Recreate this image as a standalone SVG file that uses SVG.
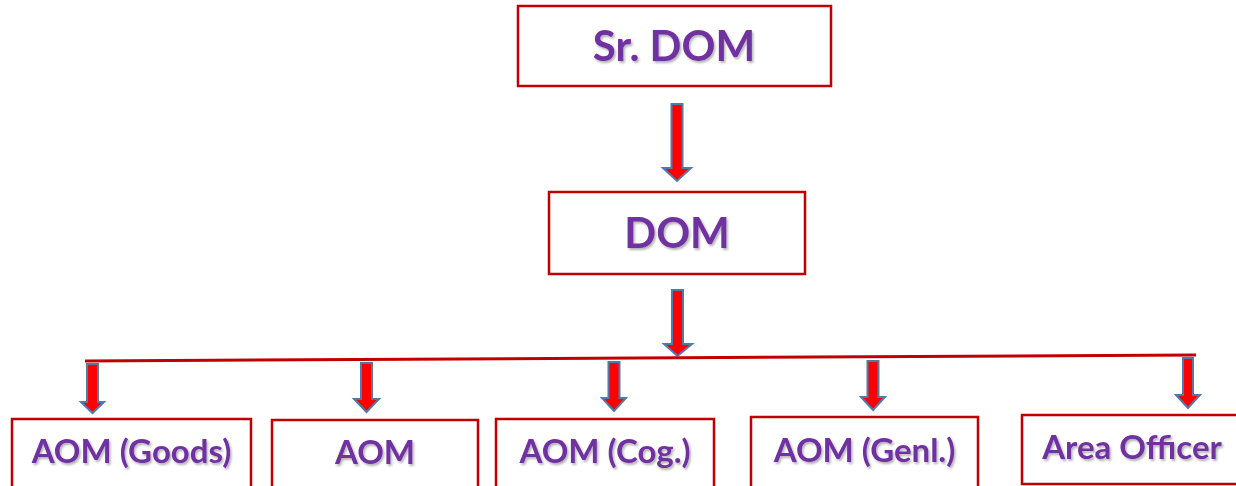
<svg xmlns="http://www.w3.org/2000/svg" width="1236" height="486" viewBox="0 0 1236 486">
<defs>
<filter id="sh" x="-10%" y="-20%" width="120%" height="150%">
<feDropShadow dx="1.5" dy="2" stdDeviation="1.2" flood-color="#000" flood-opacity="0.3"/>
</filter>
<symbol id="arrow" overflow="visible">
<path d="M-5.5,0 H5.5 V-13 H13 L0,0 L-13,-13 H-5.5 Z"/>
</symbol>
</defs>
<style>
.box{fill:#fff;stroke:#c00000;stroke-width:2.5}
.t{font-family:Lato,"Open Sans",sans-serif;font-weight:bold;fill:#7030a0;text-anchor:middle;filter:url(#sh)}
.big{font-size:42px}
.sm{font-size:33px}
.arr{fill:#ff0000;stroke:#4f7bab;stroke-width:2;stroke-linejoin:miter}
.line{stroke:#c00000;stroke-width:3;fill:none}
</style>
<rect width="1236" height="486" fill="#fff"/>
<g id="connectors">
<path class="arr" d="M671.5,104 H682.5 V168 H691 L677,181 L663,168 H671.5 Z"/>
<path class="arr" d="M672,290 H683 V344 H692 L677.5,356 L664,344 H672 Z"/>
<line class="line" x1="85" y1="361" x2="1196" y2="355"/>
<path class="arr" d="M87,364 H98 V402 H104 L92.5,413 L81,402 H87 Z"/>
<path class="arr" d="M361,363 H372 V399 H379 L366.5,412 L354,399 H361 Z"/>
<path class="arr" d="M608.5,362 H619.5 V398 H626 L614,411 L602,398 H608.5 Z"/>
<path class="arr" d="M867.5,361 H878.5 V397 H885 L873,410 L861,397 H867.5 Z"/>
<path class="arr" d="M1183,358 H1193 V395 H1200 L1188,408 L1176,395 H1183 Z"/>
</g>
<g id="n-srdom">
<rect class="box" x="518" y="6" width="313" height="80"/>
<text class="t big" x="674" y="61">Sr. DOM</text>
</g>
<g id="n-dom">
<rect class="box" x="549" y="192" width="256" height="82"/>
<text class="t big" x="677" y="248">DOM</text>
</g>
<g id="n-aom-goods">
<rect class="box" x="12" y="419" width="239" height="90"/>
<text class="t sm" x="131.5" y="463">AOM (Goods)</text>
</g>
<g id="n-aom">
<rect class="box" x="272" y="420" width="206" height="90"/>
<text class="t sm" x="375" y="464">AOM</text>
</g>
<g id="n-aom-cog">
<rect class="box" x="496" y="419" width="218" height="90"/>
<text class="t sm" x="605" y="463">AOM (Cog.)</text>
</g>
<g id="n-aom-genl">
<rect class="box" x="751" y="417" width="227" height="90"/>
<text class="t sm" x="864.5" y="462">AOM (Genl.)</text>
</g>
<g id="n-area-officer">
<rect class="box" x="1022" y="415" width="230" height="69"/>
<text class="t sm" x="1132" y="459">Area Officer</text>
</g>
</svg>
